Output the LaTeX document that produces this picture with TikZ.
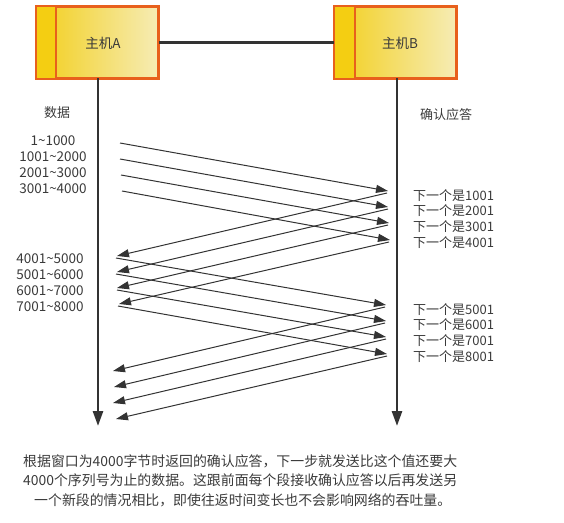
\documentclass[tikz,border=0pt]{standalone}
\usepackage{fontspec}
\setmainfont{Noto Sans CJK SC}
\usetikzlibrary{arrows.meta}
\definecolor{ink}{HTML}{333333}
\definecolor{txt}{HTML}{3A3A3A}
\definecolor{boxborder}{HTML}{E8601C}
\definecolor{boxleft}{HTML}{F2CF1E}
\definecolor{boxright}{HTML}{F6ECB4}
\definecolor{strip}{HTML}{F4CE12}
\tikzset{
  host/.style={draw=boxborder, line width=2pt, left color=boxleft, right color=boxright, minimum width=121pt, minimum height=71pt, inner sep=0pt},
  hostlabel/.style={inner sep=0pt, text=txt, font=\fontsize{13.5}{15}\selectfont},
  timeline/.style={draw=ink, line width=2.6pt, -{Triangle[length=15pt,width=10pt]}},
  msg/.style={draw=ink, line width=1pt, -{Triangle[length=12pt,width=8pt]}},
  lbl/.style={inner sep=0pt, text=txt, font=\fontsize{13}{14}\selectfont},
  dlbl/.style={inner sep=0pt, text=txt, font=\fontsize{13.5}{14}\selectfont},
  note/.style={inner sep=0pt, text=txt, font=\fontsize{13.9}{16}\selectfont, anchor=base west}
}
\begin{document}
\begin{tikzpicture}[x=1pt,y=-1pt]
\useasboundingbox (0,0) rectangle (564,522);
% hosts
\node[host] (boxA) at (97.5,42.5) {};
\node[host] (boxB) at (395,42.5) {};
\fill[strip] ([xshift=1pt,yshift=-1pt]boxA.north west) rectangle ([xshift=20pt,yshift=1pt]boxA.south west);
\fill[strip] ([xshift=1pt,yshift=-1pt]boxB.north west) rectangle ([xshift=21pt,yshift=1pt]boxB.south west);
\draw[boxborder, line width=2pt] (boxA.north west) rectangle (boxA.south east);
\draw[boxborder, line width=2pt] (boxB.north west) rectangle (boxB.south east);
\draw[boxborder, line width=2pt] ([xshift=20pt]boxA.north west) -- ([xshift=20pt]boxA.south west);
\draw[boxborder, line width=2pt] ([xshift=21pt]boxB.north west) -- ([xshift=21pt]boxB.south west);
\node[hostlabel] (la) at (103,43) {主机A};
\node[hostlabel] (lb) at (400,43) {主机B};
\draw[ink, line width=3pt] (boxA.east) -- (boxB.east -| boxB.west);
% timelines
\coordinate (a0) at (98,78);
\coordinate (a1) at (98,426);
\coordinate (b0) at (397,78);
\coordinate (b1) at (397,426);
\draw[timeline] (a0) -- (a1);
\draw[timeline] (b0) -- (b1);
% column headers
\node[lbl] (hd) at (57,113) {数据};
\node[lbl] (ha) at (446,115) {确认应答};
% data labels
\node[dlbl] (d1) at (53,141) {1\textasciitilde1000};
\node[dlbl] (d2) at (53,157) {1001\textasciitilde2000};
\node[dlbl] (d3) at (53,173) {2001\textasciitilde3000};
\node[dlbl] (d4) at (53,189) {3001\textasciitilde4000};
\node[dlbl] (d5) at (50,259) {4001\textasciitilde5000};
\node[dlbl] (d6) at (50,275) {5001\textasciitilde6000};
\node[dlbl] (d7) at (50,291) {6001\textasciitilde7000};
\node[dlbl] (d8) at (50,307) {7001\textasciitilde8000};
% ack labels
\node[lbl, anchor=west] (k1) at (413,196) {下一个是1001};
\node[lbl, anchor=west] (k2) at (413,211) {下一个是2001};
\node[lbl, anchor=west] (k3) at (413,227) {下一个是3001};
\node[lbl, anchor=west] (k4) at (413,243) {下一个是4001};
\node[lbl, anchor=west] (k5) at (413,310) {下一个是5001};
\node[lbl, anchor=west] (k6) at (413,325) {下一个是6001};
\node[lbl, anchor=west] (k7) at (413,341) {下一个是7001};
\node[lbl, anchor=west] (k8) at (413,357) {下一个是8001};
% message end points
\coordinate (s1) at (120,143); \coordinate (r1) at (388,191);
\coordinate (s2) at (120,159); \coordinate (r2) at (388,207);
\coordinate (s3) at (121,175); \coordinate (r3) at (389,223);
\coordinate (s4) at (122,191); \coordinate (r4) at (390,240);
\coordinate (q1) at (387,193); \coordinate (p1) at (117,256);
\coordinate (q2) at (388,209); \coordinate (p2) at (117,272);
\coordinate (q3) at (388,225); \coordinate (p3) at (117,288);
\coordinate (q4) at (389,242); \coordinate (p4) at (119,304);
\coordinate (s5) at (116,258); \coordinate (r5) at (386,305);
\coordinate (s6) at (116,274); \coordinate (r6) at (386,321);
\coordinate (s7) at (117,290); \coordinate (r7) at (386,337);
\coordinate (s8) at (118,306); \coordinate (r8) at (387,354);
\coordinate (q5) at (385,307); \coordinate (p5) at (113,371);
\coordinate (q6) at (385,323); \coordinate (p6) at (114,387);
\coordinate (q7) at (386,339); \coordinate (p7) at (113,403);
\coordinate (q8) at (387,356); \coordinate (p8) at (116,419);
\foreach \i in {1,...,8}{
  \draw[msg] (s\i) -- (r\i);
  \draw[msg] (q\i) -- (p\i);
}
% explanation
\node[note] (t1) at (23,466) {根据窗口为4000字节时返回的确认应答，下一步就发送比这个值还要大};
\node[note] (t2) at (23,485) {4000个序列号为止的数据。这跟前面每个段接收确认应答以后再发送另};
\node[note] (t3) at (34,505) {一个新段的情况相比，即使往返时间变长也不会影响网络的吞吐量。};
\end{tikzpicture}
\end{document}
